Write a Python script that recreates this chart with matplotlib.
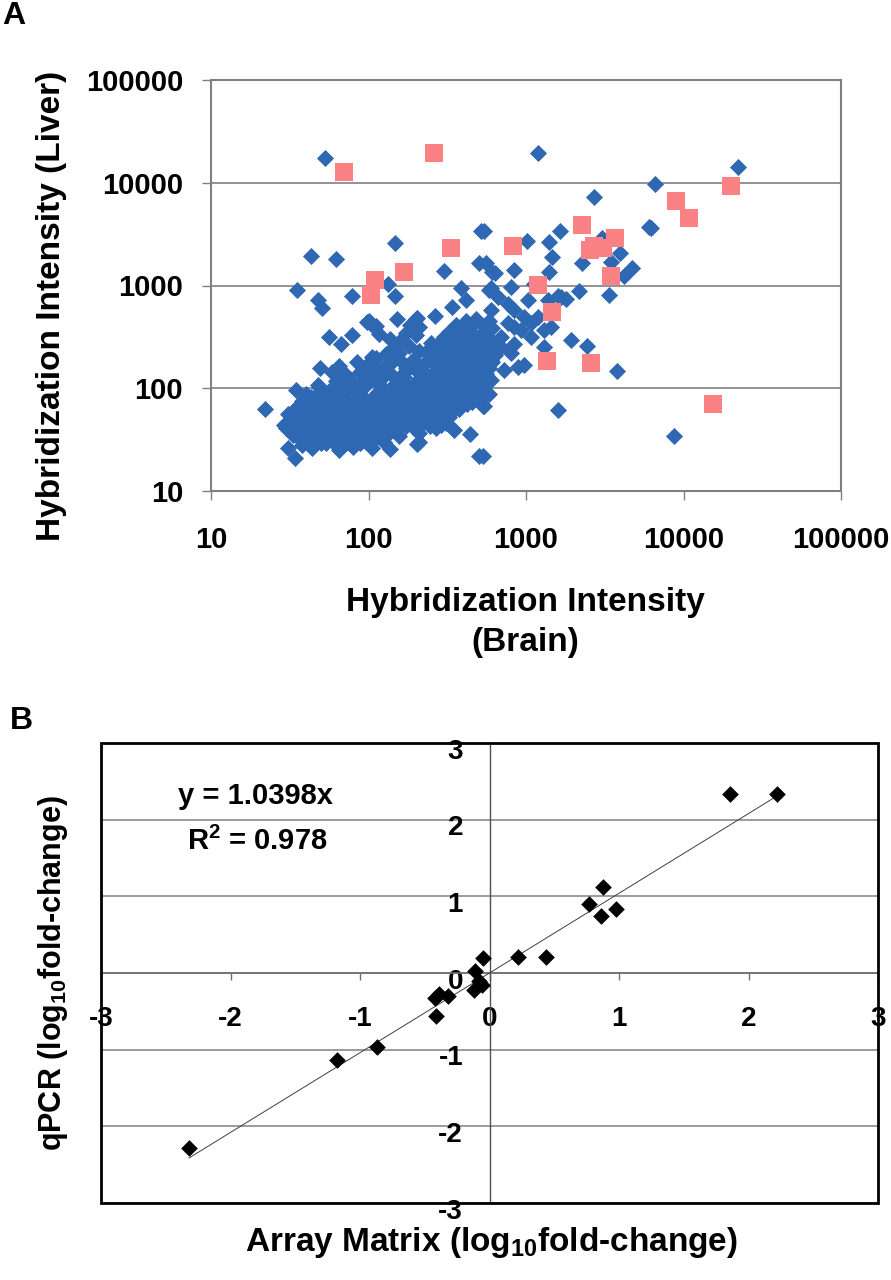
import numpy as np
import matplotlib.pyplot as plt
from matplotlib.patches import Rectangle
from matplotlib.transforms import ScaledTranslation

plt.rcParams['font.family'] = ['Liberation Sans', 'DejaVu Sans']
plt.rcParams['font.weight'] = 'bold'
plt.rcParams['axes.unicode_minus'] = False
plt.rcParams['mathtext.fontset'] = 'custom'
plt.rcParams['mathtext.rm'] = 'Liberation Sans:bold'
plt.rcParams['mathtext.it'] = 'Liberation Sans:bold'
plt.rcParams['mathtext.bf'] = 'Liberation Sans:bold'

# ---- panel A : brain vs liver intensities ----
blue_pts = [
    # isolated points
    (53, 17300), (43, 1950), (62, 1800), (147, 2600), (35, 900), (48, 720), (51, 610),
    (78, 790), (133, 1040), (147, 790), (300, 1380), (505, 1640), (542, 3380), (520, 3380),
    (607, 1340), (385, 935), (415, 730), (583, 914), (339, 620), (266, 507), (202, 478),
    (184, 411), (152, 467), (98, 443), (109, 395), (117, 341), (78, 328), (67, 272),
    (56, 316), (49, 156), (59, 144), (48, 107), (34.5, 96), (22, 63), (29, 44), (34, 36),
    (31, 26), (34, 21), (34, 61), (106, 202), (97, 129), (137, 25.5), (156, 34), (203, 28.5),
    (350, 39), (440, 36), (505, 22), (530, 67), (516, 139), (399, 72), (326, 53), (262, 253),
    (200, 167),
    # right half
    (1190, 19300), (22200, 14300), (6620, 9700), (2700, 7200), (6010, 3720), (6200, 3600),
    (1640, 3400), (1400, 2660), (1015, 2720), (1470, 1900), (2280, 1640), (3050, 2870),
    (3980, 2050), (3440, 1700), (4720, 1470), (4180, 1233), (3360, 805), (2170, 887),
    (1790, 747), (1400, 1360), (844, 1410), (631, 1330), (558, 1640), (601, 935), (804, 971),
    (1130, 1045), (1585, 787), (1025, 720), (601, 575), (766, 668), (975, 495), (1440, 395),
    (844, 395), (695, 316), (573, 272), (1925, 294), (2430, 257), (1305, 253), (886, 161),
    (975, 167), (3790, 148), (545, 139), (545, 67), (1600, 61), (8730, 34), (532, 22),
    (662, 776), (766, 427), (930, 367), (1075, 427), (695, 253), (844, 272), (520, 235),
    (601, 187), (804, 218), (1075, 316), (1185, 495), (1370, 720), (1665, 776), (1305, 367),
    (730, 150), (573, 120), (844, 575),
    # dense cloud
    (38, 28), (44, 26), (54, 29), (65, 25), (68, 28), (80, 27), (88, 29), (106, 26), (210, 30),
    (37, 32), (42, 30), (46, 33), (59, 31), (72, 29), (84, 32), (97, 30), (112, 33),
    (33, 35), (40, 38), (51, 34), (62, 37), (76, 35), (92, 38), (106, 34), (210, 37),
    (30, 41), (37, 44), (44, 40), (54, 43), (65, 45), (80, 41), (97, 44), (129, 40), (173, 43),
    (220, 45), (268, 41),
    (38, 50), (46, 47), (57, 52), (68, 48), (88, 51), (112, 47), (143, 50), (182, 53), (232, 48),
    (281, 51), (310, 46),
    (31, 56), (40, 59), (49, 55), (62, 58), (76, 60), (97, 55), (117, 58), (150, 61), (191, 56),
    (243, 59), (295, 57),
    (35, 65), (42, 68), (54, 64), (72, 69), (92, 65), (106, 70), (129, 64), (157, 67), (200, 71),
    (255, 65), (310, 68), (377, 63),
    (38, 75), (46, 79), (59, 74), (84, 78), (101, 73), (143, 80), (173, 75), (220, 78), (281, 74),
    (342, 80), (396, 77), (457, 73),
    (40, 88), (49, 92), (62, 86), (72, 90), (112, 87), (143, 93), (191, 88), (232, 91), (268, 86),
    (326, 92), (415, 89), (480, 94), (583, 87),
    (49, 100), (65, 106), (80, 101), (97, 108), (136, 99), (173, 105), (220, 110), (281, 102),
    (342, 107), (436, 100), (530, 105),
    (62, 118), (76, 124), (92, 116), (117, 122), (157, 126), (210, 117), (268, 123), (326, 119),
    (396, 125), (480, 116), (600, 121),
    (72, 136), (88, 143), (106, 135), (136, 141), (173, 146), (232, 137), (295, 142), (360, 134),
    (436, 144), (556, 138),
    (65, 165), (97, 156), (129, 168), (173, 159), (220, 166), (310, 155), (377, 163),
    (457, 170), (583, 157),
    (84, 180), (112, 195), (143, 185), (191, 190), (255, 182), (342, 196),
    (415, 184), (504, 191), (612, 179),
    (129, 214), (157, 222), (210, 230), (281, 211), (360, 226), (436, 215),
    (530, 224), (640, 210),
    (143, 245), (182, 258), (268, 250), (326, 265), (396, 247), (480, 256), (583, 262),
    (136, 300), (157, 285), (295, 298), (342, 287), (415, 305), (504, 292), (612, 284),
    (173, 348), (200, 332), (326, 352), (377, 338), (457, 345), (556, 330),
    (112, 405), (210, 392), (360, 410), (436, 385), (530, 400), (612, 390),
    (101, 450), (200, 468), (415, 455), (480, 470), (583, 448),
    # in-between rows of the cloud
    (41, 30), (50, 29), (61, 30), (76, 29), (100, 31), (125, 30),
    (35, 34), (46, 36), (57, 35), (70, 34), (86, 36), (100, 37), (120, 35), (135, 37),
    (34, 40), (41, 39), (49, 41), (60, 40), (72, 39), (88, 42), (110, 41), (150, 40), (195, 41),
    (245, 43),
    (34, 47), (42, 46), (51, 46), (62, 47), (76, 45), (100, 46), (127, 47), (160, 46), (205, 47),
    (255, 45), (290, 44),
    (35, 53), (44, 54), (53, 53), (70, 52), (85, 54), (106, 53), (132, 54), (168, 52), (215, 54),
    (265, 53), (320, 55),
    (38, 62), (46, 63), (58, 61), (66, 62), (82, 63), (100, 61), (118, 62), (142, 60), (178, 63),
    (225, 61), (282, 62), (340, 60),
    (40, 71), (50, 70), (63, 72), (78, 71), (96, 70), (116, 72), (140, 70), (190, 72), (240, 70),
    (300, 71), (360, 72), (420, 70),
    (43, 82), (53, 83), (68, 81), (92, 83), (122, 82), (160, 84), (205, 81), (250, 83), (310, 82),
    (370, 84), (440, 83), (520, 82),
    (56, 95), (88, 96), (128, 95), (160, 98), (210, 96), (250, 97), (300, 95),
    (370, 96), (450, 97), (550, 95),
    (72, 112), (115, 113), (150, 112), (195, 111), (250, 114), (310, 112),
    (380, 111), (470, 113),
    (100, 129), (125, 131), (168, 130), (240, 129), (300, 132), (360, 130), (430, 128), (520, 131),
    (115, 151), (200, 151), (270, 150), (340, 152), (410, 148), (500, 150),
    (100, 175), (165, 176), (225, 173), (295, 175), (380, 171), (460, 176), (560, 172),
    (140, 203), (245, 204), (320, 200), (400, 202), (480, 198), (580, 203),
    (235, 233), (300, 238), (370, 232), (440, 236), (540, 234),
    (250, 273), (380, 268), (460, 274), (560, 270),
    (300, 318), (420, 320), (500, 315),
]
pink_pts = [
    (70, 12600), (260, 19300), (333, 2330), (167, 1340), (110, 1140), (103, 805),
    (824, 2430), (2280, 3870), (2550, 2200), (2700, 2450), (3100, 2300), (3700, 2870),
    (9000, 6680), (10800, 4560), (19900, 9350), (3440, 1240), (1200, 1006), (1460, 555),
    (1350, 185), (2600, 178), (15450, 70),
]
log_ticks = [10, 100, 1000, 10000, 100000]
log_labels = ['10', '100', '1000', '10000', '100000']

# ---- panel B : array vs qPCR fold change ----
array_fc = [1.86, 2.22, 0.88, 0.77, 0.86, 0.98, 0.22, 0.44, -0.05, -0.11, -0.08, -0.06,
            -0.12, -0.32, -0.42, -0.39, -0.41, -0.87, -1.18, -2.32]
qpcr_fc = [2.34, 2.34, 1.12, 0.90, 0.74, 0.84, 0.21, 0.21, 0.19, 0.03, -0.10, -0.15,
           -0.22, -0.30, -0.33, -0.27, -0.56, -0.97, -1.14, -2.28]
slope = 1.0398
r_squared = 0.978
lin_ticks = [-3, -2, -1, 0, 1, 2, 3]

W, H = 891, 1280
fig = plt.figure(figsize=(W / 100, H / 100), dpi=100)

def fx(px):
    return px / W

def fy(py):
    return 1 - py / H

# panel A
axA = fig.add_axes([fx(211), fy(491), (841 - 211) / W, (491 - 80) / H])
bx, by = zip(*blue_pts)
px_, py_ = zip(*pink_pts)
axA.scatter(bx, by, marker='D', s=76, color='#2E68B3', linewidths=0, zorder=3)
axA.scatter(px_, py_, marker='s', s=150, color='#FA8284', linewidths=0, zorder=4)
axA.set_xscale('log')
axA.set_yscale('log')
axA.set_xlim(10, 100000)
axA.set_ylim(10, 100000)
axA.set_xticks(log_ticks, labels=log_labels)
axA.set_yticks(log_ticks, labels=log_labels)
axA.minorticks_off()
axA.yaxis.grid(True, color='#808080', lw=1.2)
axA.set_axisbelow(True)
for sp in axA.spines.values():
    sp.set_color('#808080')
    sp.set_linewidth(1.5)
axA.tick_params(axis='y', length=6.5, width=1, color='#808080', pad=13.5, labelsize=21)
axA.tick_params(axis='x', length=6.5, width=1, color='#808080', pad=19, labelsize=21)

fig.text(fx(52), fy(306), 'Hybridization Intensity (Liver)', rotation=90,
         ha='center', va='center', fontsize=24)
fig.text(fx(525), fy(603), 'Hybridization Intensity', ha='center', va='center', fontsize=24)
fig.text(fx(525), fy(642), '(Brain)', ha='center', va='center', fontsize=24)
fig.text(fx(2), fy(16), 'A', ha='left', va='center', fontsize=23)

# panel B
axB = fig.add_axes([fx(101), fy(1203), (878 - 101) / W, (1203 - 743) / H])
axB.set_xlim(-3, 3)
axB.set_ylim(-3, 3)
axB.scatter(array_fc, qpcr_fc, marker='D', s=72, color='black', linewidths=0, zorder=4)
xfit = np.array([min(array_fc), max(array_fc)])
axB.plot(xfit, slope * xfit, color='#404040', lw=0.7, zorder=3)

axB.spines['left'].set_position('zero')
axB.spines['bottom'].set_position('zero')
axB.spines['top'].set_visible(False)
axB.spines['right'].set_visible(False)
axB.spines['bottom'].set_color('#707070')
axB.spines['bottom'].set_linewidth(1.2)
axB.spines['left'].set_color('#505050')
axB.spines['left'].set_linewidth(1.0)
axB.add_patch(Rectangle((0, 0), 1, 1, transform=axB.transAxes, fill=False,
                        ec='black', lw=2, clip_on=False, zorder=5))
axB.set_xticks(lin_ticks)
axB.set_yticks(lin_ticks)
axB.yaxis.grid(True, color='#808080', lw=1.1)
axB.set_axisbelow(True)
axB.tick_params(axis='x', direction='out', length=5, width=1, color='#707070',
                pad=19, labelsize=20)
axB.tick_params(axis='y', length=0, pad=19, labelsize=20)
shift = ScaledTranslation(0, -4 / 72, fig.dpi_scale_trans)
for lab in axB.get_yticklabels():
    lab.set_transform(lab.get_transform() + shift)

axB.text(-1.81, 2.31, 'y = %.4fx' % slope, ha='center', va='center', fontsize=21)
axB.text(-1.79, 1.72, 'R$^2$ = %.3f' % r_squared, ha='center', va='center', fontsize=21)

fig.text(fx(53), fy(973), 'qPCR (log$_{10}$fold-change)', rotation=90,
         ha='center', va='center', fontsize=22)
fig.text(fx(491), fy(1243), 'Array Matrix (log$_{10}$fold-change)',
         ha='center', va='center', fontsize=24)
fig.text(fx(10), fy(721), 'B', ha='left', va='center', fontsize=23)

fig.savefig('out.png', dpi=100)
